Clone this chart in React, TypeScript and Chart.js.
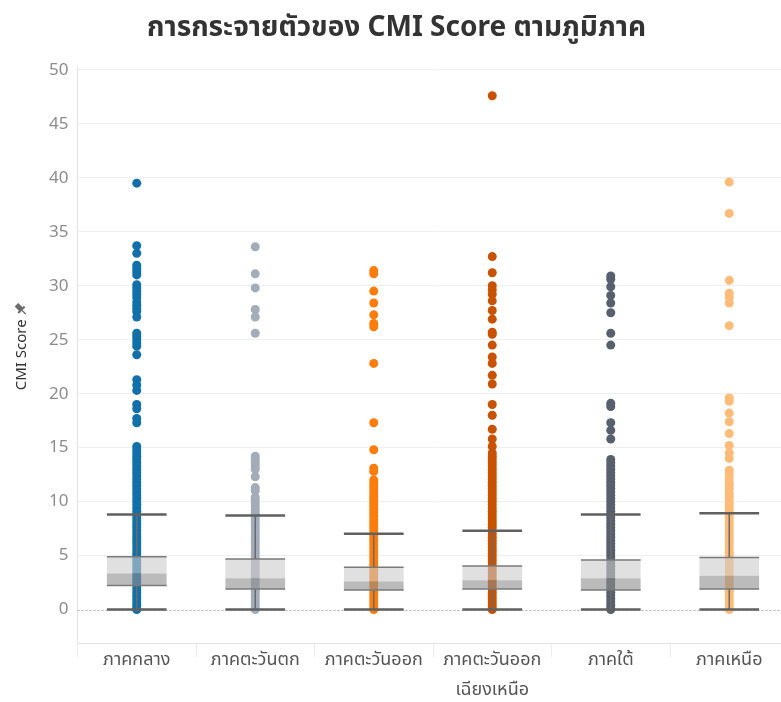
import React, { useEffect, useRef } from "react";
import { Chart, registerables } from "chart.js";

Chart.register(...registerables);

const TITLE = "การกระจายตัวของ CMI Score ตามภูมิภาค";
const Y_TITLE = "CMI Score";

const categories = ["ภาคกลาง", "ภาคตะวันตก", "ภาคตะวันออก", "ภาคตะวันออกเฉียงเหนือ", "ภาคใต้", "ภาคเหนือ"];
const tickLabels: (string | string[])[] = ["ภาคกลาง", "ภาคตะวันตก", "ภาคตะวันออก", ["ภาคตะวันออก", "เฉียงเหนือ"], "ภาคใต้", "ภาคเหนือ"];
const colors = ["#1170aa", "#a3acb9", "#fc7d0b", "#c85200", "#57606c", "#ffbc79"];
const yTicks = [0, 5, 10, 15, 20, 25, 30, 35, 40, 45, 50];

// box statistics per region
const lowerWhisker = [0, 0, 0, 0, 0, 0];
const q1 = [2.23, 1.91, 1.82, 1.91, 1.82, 1.91];
const median = [3.34, 2.9, 2.6, 2.72, 2.9, 3.12];
const q3 = [4.88, 4.69, 3.92, 4.04, 4.6, 4.82];
const upperWhisker = [8.81, 8.72, 7.01, 7.29, 8.81, 8.93];

// individual scores per region
const central = [39.5, 33.7, 33.0, 31.9, 31.6, 31.3, 31.0, 30.1, 29.8, 29.5, 29.2, 28.9, 28.5, 28.2, 27.9, 27.6, 27.1,
  25.6, 25.3, 25.0, 24.7, 24.4, 23.6, 21.3, 20.8, 20.3, 19.0, 18.6, 17.7, 17.3, 15.1, 14.8, 14.5, 14.2, 13.9, 13.6,
  13.3, 13.0, 12.7, 12.4, 12.1, 11.8, 11.5, 11.2, 10.9, 10.6, 10.3, 10.0, 9.7, 9.4, 9.1, 8.8, 8.5, 8.2, 7.9, 7.6, 7.3,
  7.0, 6.7, 6.4, 6.1, 5.8, 5.5, 5.2, 4.9, 4.6, 4.3, 4.0, 3.7, 3.4, 3.1, 2.8, 2.5, 2.2, 1.9, 1.6, 1.3, 1.0, 0.7, 0.4, 0.1, 0.0];
const west = [33.6, 31.1, 29.8, 27.8, 27.1, 25.6, 14.2, 13.9, 13.6, 13.3, 13.0, 12.3, 11.3, 11.0, 10.4, 10.1, 9.8,
  9.5, 9.2, 8.9, 8.6, 8.3, 8.0, 7.7, 7.4, 7.1, 6.8, 6.5, 6.2, 5.9, 5.6, 5.3, 5.0, 4.7, 4.4, 4.1, 3.8, 3.5, 3.2, 2.9,
  2.6, 2.3, 2.0, 1.7, 1.4, 1.1, 0.8, 0.5, 0.2, 0.0];
const east = [31.4, 31.1, 29.5, 28.4, 27.3, 26.5, 26.2, 22.8, 17.3, 14.8, 13.1, 12.8, 12.0, 11.7, 11.4, 11.1, 10.8,
  10.5, 10.2, 9.9, 9.6, 9.3, 9.0, 8.7, 8.4, 8.1, 7.8, 7.5, 7.2, 6.9, 6.6, 6.3, 6.0, 5.7, 5.4, 5.1, 4.8, 4.5, 4.2, 3.9,
  3.6, 3.3, 3.0, 2.7, 2.4, 2.1, 1.8, 1.5, 1.2, 0.9, 0.6, 0.3, 0.0];
const northeast = [47.6, 32.7, 31.2, 30.0, 29.6, 29.2, 28.6, 27.7, 26.9, 25.7, 25.5, 24.5, 23.4, 22.8, 21.7, 20.9,
  19.0, 18.0, 16.7, 15.8, 15.1, 14.5, 14.2, 13.9, 13.6, 13.3, 13.0, 12.7, 12.4, 12.1, 11.8, 11.5, 11.2, 10.9, 10.6,
  10.3, 10.0, 9.7, 9.4, 9.1, 8.8, 8.5, 8.2, 7.9, 7.6, 7.3, 7.0, 6.7, 6.4, 6.1, 5.8, 5.5, 5.2, 4.9, 4.6, 4.3, 4.0, 3.7,
  3.4, 3.1, 2.8, 2.5, 2.2, 1.9, 1.6, 1.3, 1.0, 0.7, 0.4, 0.1, 0.0];
const south = [30.9, 30.6, 29.9, 29.1, 28.4, 27.5, 25.6, 24.5, 19.1, 18.8, 17.3, 16.6, 15.8, 13.9, 13.6, 13.3, 13.0,
  12.7, 12.4, 12.1, 11.8, 11.5, 11.2, 10.9, 10.6, 10.3, 10.0, 9.7, 9.4, 9.1, 8.8, 8.5, 8.2, 7.9, 7.6, 7.3, 7.0, 6.7,
  6.4, 6.1, 5.8, 5.5, 5.2, 4.9, 4.6, 4.3, 4.0, 3.7, 3.4, 3.1, 2.8, 2.5, 2.2, 1.9, 1.6, 1.3, 1.0, 0.7, 0.4, 0.1, 0.0];
const north = [39.6, 36.7, 30.5, 29.3, 28.9, 28.4, 26.3, 19.6, 19.3, 18.2, 17.4, 16.3, 15.2, 14.5, 14.0, 12.9, 12.6,
  12.2, 11.8, 11.5, 11.2, 10.8, 10.5, 10.1, 9.8, 9.5, 9.2, 8.9, 8.6, 8.3, 8.0, 7.7, 7.4, 7.1, 6.8, 6.5, 6.2, 5.9,
  5.6, 5.3, 5.0, 4.7, 4.4, 4.1, 3.8, 3.5, 3.2, 2.9, 2.6, 2.3, 2.0, 1.7, 1.4, 1.1, 0.8, 0.5, 0.2, 0.0];
const scores = [central, west, east, northeast, south, north];

const FONT = "'Noto Sans', 'Noto Sans Thai', Lato, 'DejaVu Sans', sans-serif";

const boxPlugin = {
  id: "boxWhiskers",
  beforeDatasetsDraw(chart: any) {
    const { ctx, chartArea, scales } = chart;
    const y0 = Math.round(scales.y.getPixelForValue(0)) + 0.5;
    ctx.save();
    ctx.strokeStyle = "#b0b0b0";
    ctx.lineWidth = 1;
    ctx.setLineDash([2, 2]);
    ctx.beginPath();
    ctx.moveTo(chartArea.left, y0);
    ctx.lineTo(chartArea.right, y0);
    ctx.stroke();
    ctx.restore();
  },
  afterDatasetsDraw(chart: any) {
    const { ctx, scales } = chart;
    const meta = chart.getDatasetMeta(0);
    const ys = scales.y;
    ctx.save();
    categories.forEach((_, i) => {
      const bar = meta.data[i];
      if (!bar) return;
      const cx = bar.x;
      const half = bar.width / 2;
      const pUp = ys.getPixelForValue(upperWhisker[i]);
      const pLo = ys.getPixelForValue(lowerWhisker[i]);
      const pQ1 = ys.getPixelForValue(q1[i]);
      const pQ3 = ys.getPixelForValue(q3[i]);
      ctx.strokeStyle = "#6a6a6a";
      ctx.lineWidth = 1.5;
      ctx.beginPath();
      ctx.moveTo(cx, pQ3);
      ctx.lineTo(cx, pUp);
      ctx.moveTo(cx, pQ1);
      ctx.lineTo(cx, pLo);
      ctx.stroke();
      ctx.strokeStyle = "#7a7a7a";
      ctx.lineWidth = 1.5;
      ctx.beginPath();
      ctx.moveTo(cx - half, pQ3);
      ctx.lineTo(cx + half, pQ3);
      ctx.moveTo(cx - half, pQ1);
      ctx.lineTo(cx + half, pQ1);
      ctx.stroke();
      ctx.strokeStyle = "#606060";
      ctx.lineWidth = 2.5;
      ctx.beginPath();
      ctx.moveTo(cx - half, pUp);
      ctx.lineTo(cx + half, pUp);
      ctx.moveTo(cx - half, pLo);
      ctx.lineTo(cx + half, pLo);
      ctx.stroke();
    });
    ctx.restore();
  },
  afterDraw(chart: any) {
    const { ctx, chartArea } = chart;
    const cy = (chartArea.top + chartArea.bottom) / 2;
    ctx.save();
    ctx.font = `15px ${FONT}`;
    const w = ctx.measureText(Y_TITLE).width;
    const px = 20;
    const py = cy - w / 2 - 11;
    ctx.translate(px, py);
    ctx.rotate(-Math.PI / 4);
    ctx.fillStyle = "#6b6b6b";
    ctx.strokeStyle = "#6b6b6b";
    ctx.fillRect(-2.5, -5, 5, 7);
    ctx.fillRect(-4.5, 1, 9, 2);
    ctx.lineWidth = 1.3;
    ctx.beginPath();
    ctx.moveTo(0, 3);
    ctx.lineTo(0, 8);
    ctx.stroke();
    ctx.restore();
  },
};

export default function App() {
  const ref = useRef<HTMLCanvasElement | null>(null);

  useEffect(() => {
    if (!ref.current) return;
    const boxData = categories.map((_, i) => [q1[i], median[i]]);
    const boxDataUpper = categories.map((_, i) => [median[i], q3[i]]);
    const pointSets = scores.map((vals, i) => ({
      type: "line" as const,
      label: categories[i],
      data: vals.map((v) => ({ x: categories[i], y: v })),
      showLine: false,
      pointRadius: 4.5,
      pointHoverRadius: 4.5,
      pointBorderWidth: 0,
      pointBackgroundColor: colors[i],
      borderColor: colors[i],
      order: 2,
    }));

    const chart = new Chart(ref.current, {
      type: "bar",
      data: {
        labels: categories,
        datasets: [
          {
            type: "bar",
            label: "lower",
            data: boxData as any,
            backgroundColor: "rgba(142,142,142,0.6)",
            borderWidth: 0,
            grouped: false,
            barPercentage: 0.504,
            categoryPercentage: 1,
            order: 0,
          },
          {
            type: "bar",
            label: "upper",
            data: boxDataUpper as any,
            backgroundColor: "rgba(203,203,203,0.6)",
            borderWidth: 0,
            grouped: false,
            barPercentage: 0.504,
            categoryPercentage: 1,
            order: 0,
          },
          ...(pointSets as any[]),
        ],
      },
      options: {
        animation: false,
        responsive: false,
        maintainAspectRatio: false,
        layout: { padding: 0 },
        plugins: {
          legend: { display: false },
          tooltip: { enabled: false },
          title: {
            display: true,
            text: TITLE,
            color: "#333333",
            font: { size: 28, weight: "bold", family: FONT },
            padding: { top: 11, bottom: 22 },
          },
        },
        scales: {
          x: {
            type: "category",
            offset: true,
            grid: {
              offset: true,
              drawOnChartArea: false,
              drawTicks: true,
              tickLength: 14,
              tickColor: "#ececec",
            },
            border: { display: true, color: "#e4e4e4" },
            ticks: {
              color: "#555555",
              font: { size: 18, family: FONT, lineHeight: 1.65 },
              padding: -12,
              maxRotation: 0,
              autoSkip: false,
              callback: (_v: any, i: number) => tickLabels[i],
            },
            afterFit: (s: any) => {
              s.height = 59;
            },
          },
          y: {
            type: "linear",
            min: -3.1,
            max: 50.3,
            afterBuildTicks: (s: any) => {
              s.ticks = yTicks.map((v) => ({ value: v }));
            },
            afterFit: (s: any) => {
              s.width = 77.5;
            },
            grid: {
              color: (c: any) => (c.tick && c.tick.value === 0 ? "rgba(0,0,0,0)" : "#efefef"),
              drawTicks: false,
            },
            border: { display: true, color: "#e6e6e6" },
            ticks: {
              color: "#8c8c8c",
              font: { size: 17, family: FONT },
              padding: 9,
            },
            title: {
              display: true,
              text: Y_TITLE,
              color: "#333333",
              font: { size: 15, family: FONT },
              padding: { top: 13, bottom: 0 },
            },
          },
        },
      },
      plugins: [boxPlugin],
    });
    return () => chart.destroy();
  }, []);

  return (
    <div style={{ position: "fixed", left: 0, top: 0, width: 781, height: 702, overflow: "hidden", background: "#fff" }}>
      <canvas ref={ref} width={793} height={702} style={{ display: "block", width: 793, height: 702 }} />
    </div>
  );
}
